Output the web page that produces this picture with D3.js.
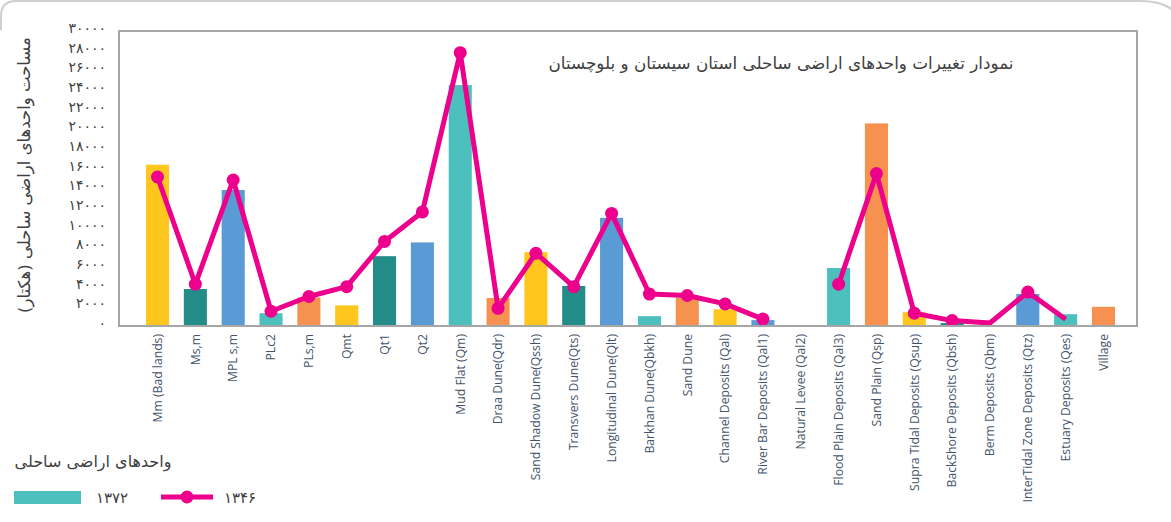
<!DOCTYPE html>
<html>
<head>
<meta charset="utf-8">
<script src="https://cdn.jsdelivr.net/npm/d3@7"></script>
<style>
  html, body { margin: 0; padding: 0; background: #fff; }
  svg { display: block; }
</style>
</head>
<body>
<svg id="chart" width="1171" height="522"></svg>
<script>
// ---------- data ----------
const categories = [
  "Mm (Bad lands)", "Ms,m", "MPL s,m", "PLc2", "PLs,m", "Qmt", "Qt1", "Qt2",
  "Mud Flat (Qm)", "Draa Dune(Qdr)", "Sand Shadow Dune(Qssh)", "Transvers Dune(Qts)",
  "Longitudinal Dune(Qlt)", "Barkhan Dune(Qbkh)", "Sand Dune", "Channel Deposits (Qal)",
  "River Bar Deposits (Qal1)", "Natural Levee (Qal2)", "Flood Plain Deposits (Qal3)",
  "Sand Plain (Qsp)", "Supra Tidal Deposits (Qsup)", "BackShore Deposits (Qbsh)",
  "Berm Deposits (Qbm)", "InterTidal Zone Deposits (Qtz)", "Estuary Deposits (Qes)", "Village"
];
// 1372 (bars)
const values1372 = [16400, 3760, 13830, 1300, 2900, 2100, 7100, 8500, 24500, 2850, 7500, 4070,
  11000, 1000, 2900, 1700, 600, 0, 5900, 20600, 1400, 300, 0, 3250, 1200, 1950];
// 1346 (line)
const values1346 = [15150, 4250, 14850, 1500, 3000, 4000, 8600, 11600, 27800, 1800, 7400, 4000,
  11450, 3250, 3100, 2250, 700, null, 4250, 15500, 1300, 550, 300, 3450, 680, null];
const markerShown = [1,1,1,1,1,1,1,1,1,1,1,1,1,1,1,1,1,0,1,1,1,1,0,1,0,0];
const yTicks = [0, 2000, 4000, 6000, 8000, 10000, 12000, 14000, 16000, 18000, 20000,
  22000, 24000, 26000, 28000, 30000];
const seriesNames = ["۱۳۷۲", "۱۳۴۶"];
const titleText = "نمودار تغییرات واحدهای اراضی ساحلی استان سیستان و بلوچستان";
const yTitleText = "مساحت واحدهای اراضی ساحلی (هکتار)";
const legendTitle = "واحدهای اراضی ساحلی";

// ---------- styles ----------
const Y = "#FFC61E", DT = "#238C88", B = "#5A9BD5", LT = "#4DBFBC", O = "#F79150";
const barColors = [Y, DT, B, LT, O, Y, DT, B, LT, O, Y, DT, B, LT, O, Y, B, LT, LT, O, Y, DT, B, B, LT, O];
const lineColor = "#EC008C";
const faFont = "'DejaVu Sans', sans-serif";

const toFa = s => String(s).replace(/\d/g, d => "۰۱۲۳۴۵۶۷۸۹"[d]);

const svg = d3.select("#chart");

// card border
svg.append("path")
  .attr("d", "M1,30 L1,16 Q1,1 16,1 L1140,1 Q1185,1 1185,40 L1185,600")
  .attr("fill", "none").attr("stroke", "#cfcfcf").attr("stroke-width", 2);

const frame = {left: 119, top: 31, right: 1137, bottom: 326};

const x = d3.scaleBand().domain(categories).range([138.6, 1122.4]).paddingInner(0.39).paddingOuter(0.195);
const y = d3.scaleLinear().domain([0, 30000]).range([frame.bottom, frame.top]);

// plot frame
svg.append("rect")
  .attr("x", frame.left).attr("y", frame.top)
  .attr("width", frame.right - frame.left).attr("height", frame.bottom - frame.top)
  .attr("fill", "none").attr("stroke", "#a6a6a6").attr("stroke-width", 2);

// y axis
const yAxis = d3.axisLeft(y).tickValues(yTicks).tickSize(0).tickPadding(13).tickFormat(d => toFa(d));
const yg = svg.append("g").attr("transform", `translate(${frame.left},0)`).call(yAxis);
yg.select(".domain").remove();
yg.selectAll("text").attr("font-family", faFont).attr("font-size", 14)
  .attr("fill", "#404040").attr("dy", "0.1em");

// bars
svg.append("g").selectAll("rect").data(categories).join("rect")
  .attr("x", d => x(d))
  .attr("width", x.bandwidth())
  .attr("y", (d, i) => y(values1372[i]))
  .attr("height", (d, i) => y(0) - y(values1372[i]))
  .attr("fill", (d, i) => barColors[i]);

// line
const pts = categories.map((c, i) => ({c, v: values1346[i], m: markerShown[i]}));
const line = d3.line().defined(d => d.v !== null)
  .x(d => x(d.c) + x.bandwidth() / 2).y(d => y(d.v));
svg.append("path").datum(pts).attr("d", line)
  .attr("fill", "none").attr("stroke", lineColor).attr("stroke-width", 5).attr("stroke-linejoin", "round");
svg.append("g").selectAll("circle").data(pts.filter(d => d.v !== null && d.m)).join("circle")
  .attr("cx", d => x(d.c) + x.bandwidth() / 2).attr("cy", d => y(d.v)).attr("r", 6.5)
  .attr("fill", lineColor);

// redraw bottom frame line on top
svg.append("line").attr("x1", frame.left).attr("x2", frame.right)
  .attr("y1", frame.bottom).attr("y2", frame.bottom)
  .attr("stroke", "#a6a6a6").attr("stroke-width", 2);

// x labels
svg.append("g").selectAll("text").data(categories).join("text")
  .attr("transform", d => `translate(${x(d) + x.bandwidth() / 2},334) rotate(-90)`)
  .attr("text-anchor", "end").attr("dy", "0.35em")
  .attr("font-family", "'Open Sans', sans-serif").attr("font-size", 12.2)
  .attr("fill", "#44546A")
  .text(d => d);

// title
svg.append("text").attr("x", 781).attr("y", 69)
  .attr("text-anchor", "middle").attr("font-family", faFont).attr("font-size", 16.8)
  .attr("fill", "#404040").text(titleText);

// y title
svg.append("text").attr("transform", "translate(30,175) rotate(-90)")
  .attr("text-anchor", "middle").attr("font-family", faFont).attr("font-size", 16.5)
  .attr("fill", "#404040").text(yTitleText);

// legend
svg.append("text").attr("x", 93).attr("y", 467)
  .attr("text-anchor", "middle").attr("font-family", faFont).attr("font-size", 16)
  .attr("fill", "#404040").text(legendTitle);
svg.append("rect").attr("x", 14).attr("y", 491).attr("width", 67).attr("height", 13).attr("fill", LT);
svg.append("text").attr("x", 112).attr("y", 503).attr("text-anchor", "middle")
  .attr("font-family", faFont).attr("font-size", 15).attr("fill", "#404040").text(seriesNames[0]);
svg.append("line").attr("x1", 161).attr("x2", 213).attr("y1", 497).attr("y2", 497)
  .attr("stroke", lineColor).attr("stroke-width", 5);
svg.append("circle").attr("cx", 187).attr("cy", 497).attr("r", 6.5).attr("fill", lineColor);
svg.append("text").attr("x", 240).attr("y", 503).attr("text-anchor", "middle")
  .attr("font-family", faFont).attr("font-size", 15).attr("fill", "#404040").text(seriesNames[1]);
</script>
</body>
</html>
